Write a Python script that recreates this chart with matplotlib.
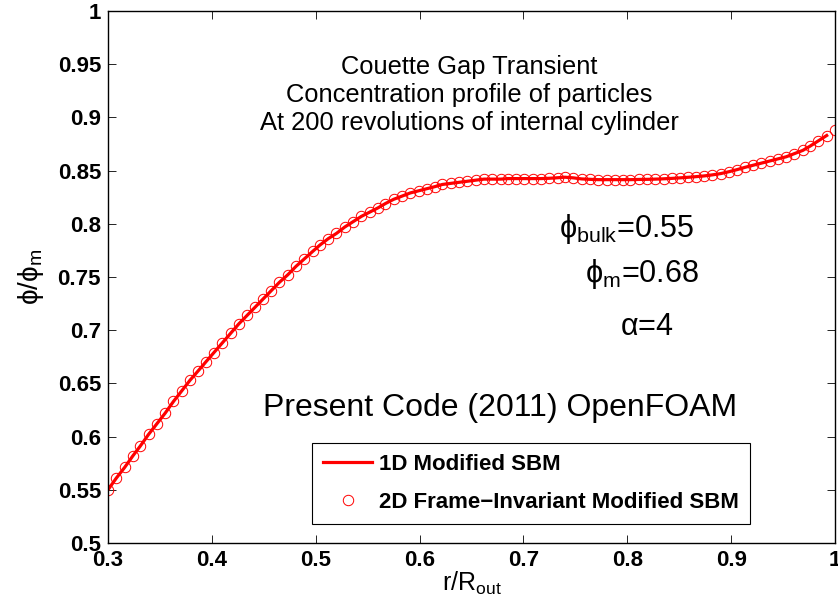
import numpy as np
import matplotlib
matplotlib.use("Agg")
import matplotlib.pyplot as plt

plt.rcParams['font.family'] = ['Liberation Sans', 'DejaVu Sans']
plt.rcParams['mathtext.fontset'] = 'custom'
plt.rcParams['mathtext.rm'] = 'Liberation Sans'
plt.rcParams['mathtext.it'] = 'Liberation Sans:italic'
plt.rcParams['mathtext.bf'] = 'Liberation Sans:bold'
plt.rcParams['mathtext.fallback'] = 'stixsans'

# r/R_out positions of the 2D results (circles)
r_2d = [0.300, 0.308, 0.316, 0.324, 0.331, 0.339, 0.347, 0.355, 0.363, 0.371,
        0.379, 0.387, 0.394, 0.402, 0.410, 0.418, 0.426, 0.434, 0.442, 0.449,
        0.457, 0.465, 0.473, 0.481, 0.489, 0.497, 0.504, 0.512, 0.520, 0.528,
        0.536, 0.544, 0.552, 0.560, 0.567, 0.575, 0.583, 0.591, 0.599, 0.607,
        0.615, 0.622, 0.630, 0.638, 0.646, 0.654, 0.662, 0.670, 0.678, 0.685,
        0.693, 0.701, 0.709, 0.717, 0.725, 0.733, 0.740, 0.748, 0.756, 0.764,
        0.772, 0.780, 0.788, 0.796, 0.803, 0.811, 0.819, 0.827, 0.835, 0.843,
        0.851, 0.858, 0.866, 0.874, 0.882, 0.890, 0.898, 0.906, 0.913, 0.921,
        0.929, 0.937, 0.945, 0.953, 0.961, 0.969, 0.976, 0.984, 0.992, 1.000]
phi_2d = [0.550, 0.561, 0.571, 0.582, 0.591, 0.602, 0.612, 0.622, 0.633, 0.643,
          0.653, 0.662, 0.670, 0.679, 0.688, 0.697, 0.706, 0.714, 0.722, 0.729,
          0.737, 0.745, 0.752, 0.760, 0.767, 0.774, 0.780, 0.786, 0.791, 0.797,
          0.802, 0.807, 0.811, 0.815, 0.819, 0.823, 0.826, 0.829, 0.831, 0.833,
          0.835, 0.837, 0.838, 0.839, 0.840, 0.841, 0.842, 0.842, 0.842, 0.8425,
          0.8425, 0.8425, 0.8425, 0.8425, 0.8428, 0.8433, 0.8438, 0.8432, 0.8422, 0.8418,
          0.8415, 0.8415, 0.8415, 0.8415, 0.8415, 0.8417, 0.8418, 0.842, 0.8423, 0.8427,
          0.8432, 0.8437, 0.8443, 0.845, 0.846, 0.8472, 0.849, 0.851, 0.853, 0.855,
          0.857, 0.859, 0.861, 0.863, 0.866, 0.869, 0.873, 0.878, 0.883, 0.888]

# 1D solution (line)
r_1d = r_2d[:-1]
phi_1d = phi_2d[:-1]

x_ticks = [0.3, 0.4, 0.5, 0.6, 0.7, 0.8, 0.9, 1.0]
x_tick_labels = ['0.3', '0.4', '0.5', '0.6', '0.7', '0.8', '0.9', '1']
y_ticks = [0.5, 0.55, 0.6, 0.65, 0.7, 0.75, 0.8, 0.85, 0.9, 0.95, 1.0]
y_tick_labels = ['0.5', '0.55', '0.6', '0.65', '0.7', '0.75', '0.8', '0.85', '0.9', '0.95', '1']

title_lines = ['Couette Gap Transient',
               'Concentration profile of particles',
               'At 200 revolutions of internal cylinder']

fig = plt.figure(figsize=(8.38, 6.06), dpi=100)
ax = fig.add_axes([0.1289, 0.104, 0.8675, 0.8778])

ax.plot(r_1d, phi_1d, '-', color='red', linewidth=2.3, label='1D Modified SBM')
ax.plot(r_2d, phi_2d, 'o', color='red', markerfacecolor='none', markersize=7.5,
        markeredgewidth=0.7, label='2D Frame\u2212Invariant Modified SBM')

ax.set_xlim(0.3, 1.0)
ax.set_ylim(0.5, 1.0)
ax.set_xticks(x_ticks)
ax.set_xticklabels(x_tick_labels)
ax.set_yticks(y_ticks)
ax.set_yticklabels(y_tick_labels)
ax.tick_params(direction='in', top=True, right=True, length=6, width=0.6,
               labelsize=16, pad=5)
for lab in ax.get_xticklabels() + ax.get_yticklabels():
    lab.set_fontweight('bold')
for sp in ax.spines.values():
    sp.set_linewidth(1.0)

ax.set_xlabel(r'r/R$_{\mathregular{out}}$', fontsize=18)
ax.set_ylabel(r'$\mathregular{\phi/\phi_m}$', fontsize=20)
ax.xaxis.set_label_coords(0.5, -0.05)
ax.yaxis.set_label_coords(-0.085, 0.5)

# annotation texts
for i, line in enumerate(title_lines):
    fig.text(0.5597, 0.8779 - i * 0.0462, line, fontsize=18.4,
             ha='center', va='baseline')
fig.text(0.667, 0.609, r'$\mathregular{\phi_{bulk}}$=0.55', fontsize=22, va='baseline')
fig.text(0.698, 0.5347, r'$\mathregular{\phi_m}$=0.68', fontsize=22, va='baseline')
fig.text(0.740, 0.447, r'$\mathregular{\alpha}$=4', fontsize=22, va='baseline')
fig.text(0.5967, 0.3135, 'Present Code (2011) OpenFOAM', fontsize=23,
         ha='center', va='baseline')

leg = ax.legend(loc='upper left', bbox_to_anchor=(0.2806, 0.188), borderaxespad=0,
                fancybox=False, framealpha=1, edgecolor='black',
                handlelength=2.2, handletextpad=0.3, labelspacing=0.75,
                borderpad=0.5, prop={'weight': 'bold', 'size': 16})
leg.get_frame().set_linewidth(0.8)

fig.savefig('out.png', dpi=100)
